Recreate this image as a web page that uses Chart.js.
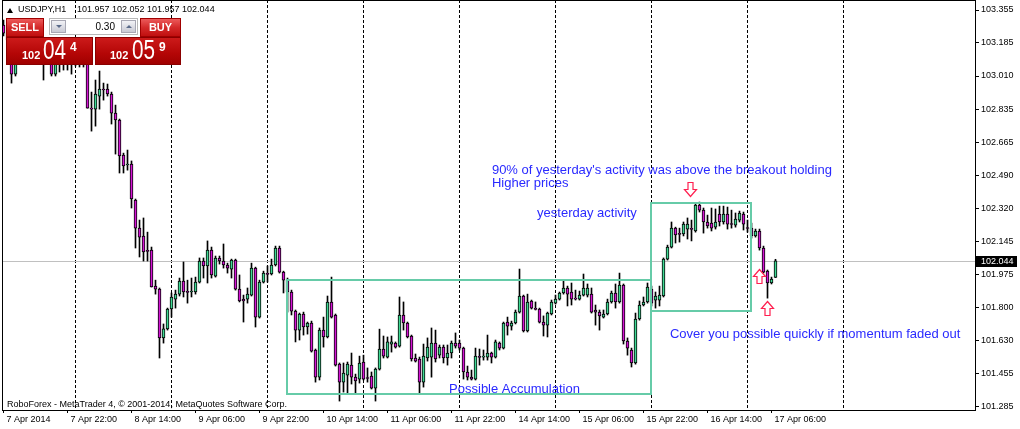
<!DOCTYPE html>
<html><head><meta charset="utf-8">
<script src="https://cdn.jsdelivr.net/npm/chart.js@4.4.1/dist/chart.umd.min.js"></script>
<style>
html,body{margin:0;padding:0;background:#fff;}
#wrap{position:relative;width:1020px;height:429px;overflow:hidden;font-family:"Liberation Sans",Arial,sans-serif;}
#c{position:absolute;left:0;top:0;}
.abs{position:absolute;white-space:pre;}
#tri{left:7px;top:8px;width:0;height:0;border-left:3.5px solid transparent;border-right:3.5px solid transparent;border-bottom:5px solid #000;}
#title{left:18px;top:5px;font-size:9px;line-height:9px;color:#000;}
#title b{font-weight:normal;position:absolute;left:59px;top:0;}
#footer{left:7px;top:400px;font-size:9px;line-height:9px;color:#000;}
.btn{position:absolute;top:18px;height:19px;background:linear-gradient(#ec5a5a,#d42a2a 50%,#c01010);border:1px solid #a00000;box-sizing:border-box;color:#fff;font-weight:bold;font-size:11px;line-height:17px;text-align:center;}
#sell{left:6px;width:38px;}
#buy{left:140px;width:41px;}
#spin{position:absolute;left:49px;top:18px;width:89px;height:17px;background:#fff;border:1px solid #b8b8b8;box-sizing:border-box;}
.sb{position:absolute;top:1px;width:15px;height:13px;background:linear-gradient(#f2f2f6,#c9cad4);border:1px solid #a8a8b4;box-sizing:border-box;}
.sb i{position:absolute;left:4px;width:0;height:0;border-left:3px solid transparent;border-right:3px solid transparent;}
#sbl{left:1px;} #sbl i{top:4px;border-top:3px solid #5a6a8a;}
#sbr{left:71px;} #sbr i{top:4px;border-bottom:3px solid #5a6a8a;}
#val{position:absolute;right:22px;top:3px;font-size:10px;line-height:10px;color:#000;}
.pbox{position:absolute;top:37px;height:28px;background:linear-gradient(#cc1a1a,#b40606 60%,#a00000);border:1px solid #8a0000;box-sizing:border-box;color:#fff;}
#p1{left:6px;width:87px;}
#p2{left:95px;width:86px;}
.pbox span{position:absolute;white-space:pre;}
.sm{font-size:11px;line-height:11px;font-weight:bold;top:12px;}
.bg{font-size:28px;line-height:28px;top:-2px;display:inline-block;transform:scaleX(0.74);transform-origin:0 0;}
.sp{font-size:12px;line-height:12px;font-weight:bold;top:3px;}
</style></head>
<body>
<div id="wrap">
<canvas id="c" width="1020" height="429"></canvas>
<div id="tri" class="abs"></div>
<div id="title" class="abs">USDJPY,H1<b>101.957 102.052 101.957 102.044</b></div>
<div id="sell" class="btn">SELL</div>
<div id="spin"><div id="sbl" class="sb"><i></i></div><div id="val">0.30</div><div id="sbr" class="sb"><i></i></div></div>
<div id="buy" class="btn">BUY</div>
<div id="p1" class="pbox"><span class="sm" style="left:15px">102</span><span class="bg" style="left:36px">04</span><span class="sp" style="left:63px">4</span></div>
<div id="p2" class="pbox"><span class="sm" style="left:14px">102</span><span class="bg" style="left:36px">05</span><span class="sp" style="left:63px">9</span></div>
<div id="footer" class="abs">RoboForex - MetaTrader 4, © 2001-2014, MetaQuotes Software Corp.</div>
</div>
<script>
// ---- data (USDJPY H1, bar 0 = 7 Apr 2014 06:00) ----
const opens = [103.276,103.234,103.198,103.020,103.120,103.172,103.146,103.188,103.156,103.198,103.172,103.146,103.156,103.020,103.104,103.083,103.109,103.093,103.083,103.093,103.083,103.093,102.842,102.837,102.905,102.942,102.942,102.916,102.816,102.780,102.597,102.545,102.550,102.362,102.215,102.174,102.095,102.100,101.912,101.896,101.641,101.688,101.792,101.844,101.870,101.938,101.881,101.881,101.881,101.933,102.043,102.017,102.100,101.964,102.059,102.043,102.022,102.001,102.048,101.896,101.844,101.844,101.865,102.006,101.750,101.933,101.975,101.975,102.022,102.111,101.985,101.943,101.881,101.781,101.682,101.766,101.698,101.719,101.578,101.436,101.682,101.646,101.829,101.761,101.504,101.410,101.447,101.499,101.436,101.426,101.515,101.431,101.442,101.379,101.478,101.583,101.541,101.609,101.614,101.598,101.761,101.719,101.651,101.536,101.531,101.410,101.536,101.541,101.614,101.551,101.593,101.536,101.562,101.614,101.614,101.588,101.463,101.436,101.426,101.541,101.541,101.541,101.562,101.541,101.614,101.588,101.724,101.703,101.719,101.776,101.860,101.677,101.834,101.792,101.792,101.724,101.708,101.766,101.823,101.844,101.876,101.902,101.881,101.849,101.844,101.865,101.865,101.870,101.787,101.776,101.750,101.766,101.829,101.876,101.829,101.917,101.625,101.578,101.510,101.740,101.813,101.829,101.896,101.839,101.839,101.860,102.053,102.116,102.215,102.184,102.184,102.210,102.210,102.200,102.336,102.309,102.247,102.241,102.220,102.288,102.247,102.288,102.236,102.231,102.257,102.288,102.215,102.215,102.174,102.200,102.111,101.990,101.928,101.957];
const highs = [103.302,103.260,103.208,103.146,103.198,103.208,103.219,103.224,103.250,103.240,103.198,103.188,103.177,103.136,103.125,103.136,103.136,103.120,103.120,103.115,103.120,103.120,102.926,102.989,103.036,102.973,102.968,102.926,102.858,102.785,102.607,102.623,102.566,102.367,102.257,102.268,102.194,102.116,101.943,101.902,101.714,101.797,101.876,101.891,101.954,102.038,101.943,101.954,101.959,102.059,102.059,102.148,102.116,102.069,102.069,102.132,102.032,102.053,102.053,101.970,101.865,101.902,102.032,102.011,101.943,101.990,102.017,102.053,102.121,102.121,101.990,101.954,101.891,101.787,101.771,101.776,101.724,101.729,101.583,101.693,101.750,101.860,101.959,101.766,101.510,101.510,101.515,101.562,101.452,101.546,101.551,101.484,101.463,101.484,101.687,101.651,101.646,101.651,101.620,101.855,101.829,101.724,101.656,101.557,101.541,101.609,101.641,101.693,101.682,101.604,101.604,101.604,101.625,101.667,101.630,101.593,101.494,101.473,101.588,101.583,101.578,101.656,101.567,101.630,101.620,101.724,101.750,101.729,101.787,102.001,101.865,101.870,101.839,101.829,101.797,101.756,101.776,101.839,101.865,101.881,101.938,101.912,101.928,101.891,101.886,101.975,101.923,101.902,101.813,101.787,101.787,101.844,101.886,101.923,101.980,101.923,101.641,101.588,101.771,101.834,101.855,101.928,101.912,101.881,101.912,102.059,102.126,102.247,102.220,102.215,102.247,102.268,102.257,102.346,102.351,102.320,102.283,102.320,102.315,102.330,102.330,102.325,102.309,102.294,102.304,102.299,102.257,102.241,102.210,102.210,102.121,101.996,101.959,102.052];
const lows = [103.219,103.172,102.973,103.010,103.093,103.104,103.115,103.120,103.136,103.120,102.989,103.093,103.010,103.010,103.031,103.041,103.041,103.020,103.062,103.057,103.057,102.842,102.722,102.748,102.837,102.884,102.905,102.759,102.602,102.503,102.503,102.518,102.320,102.111,102.064,102.043,102.043,101.907,101.870,101.536,101.614,101.682,101.750,101.797,101.860,101.855,101.823,101.855,101.870,101.928,101.954,101.928,101.954,101.959,102.027,102.006,101.980,101.954,101.891,101.829,101.724,101.823,101.860,101.698,101.745,101.928,101.933,101.970,102.017,101.980,101.876,101.776,101.761,101.620,101.630,101.656,101.661,101.567,101.410,101.421,101.593,101.641,101.745,101.494,101.311,101.358,101.353,101.400,101.348,101.405,101.421,101.410,101.374,101.311,101.473,101.536,101.536,101.567,101.588,101.593,101.682,101.641,101.520,101.515,101.353,101.384,101.520,101.436,101.515,101.536,101.510,101.499,101.536,101.588,101.578,101.426,101.421,101.421,101.421,101.499,101.525,101.525,101.510,101.536,101.578,101.583,101.656,101.682,101.714,101.771,101.672,101.672,101.792,101.787,101.719,101.651,101.646,101.761,101.818,101.839,101.870,101.808,101.813,101.839,101.839,101.860,101.855,101.771,101.708,101.682,101.745,101.761,101.823,101.797,101.823,101.609,101.551,101.489,101.504,101.734,101.808,101.823,101.808,101.797,101.808,101.855,102.048,102.111,102.137,102.142,102.174,102.158,102.148,102.194,102.299,102.189,102.215,102.200,102.210,102.226,102.236,102.210,102.215,102.220,102.247,102.205,102.194,102.163,102.168,102.100,101.980,101.849,101.923,101.957];
const closes = [103.234,103.198,103.020,103.120,103.172,103.146,103.188,103.156,103.198,103.172,103.146,103.156,103.020,103.104,103.083,103.109,103.093,103.083,103.093,103.083,103.093,102.842,102.837,102.916,102.942,102.937,102.916,102.816,102.780,102.592,102.540,102.550,102.367,102.215,102.168,102.090,102.093,101.907,101.896,101.641,101.688,101.792,101.855,101.870,101.938,101.881,101.879,101.883,101.933,102.043,102.017,102.100,101.970,102.059,102.043,102.022,102.006,102.048,101.896,101.834,101.834,101.870,102.006,101.750,101.933,101.980,101.973,102.022,102.111,101.985,101.943,101.881,101.781,101.682,101.766,101.698,101.719,101.572,101.436,101.682,101.646,101.829,101.750,101.499,101.410,101.457,101.504,101.436,101.416,101.510,101.426,101.429,101.379,101.478,101.583,101.546,101.620,101.620,101.593,101.761,101.719,101.646,101.531,101.520,101.410,101.546,101.593,101.614,101.531,101.593,101.536,101.562,101.614,101.598,101.588,101.463,101.436,101.426,101.546,101.539,101.543,101.562,101.541,101.620,101.588,101.719,101.703,101.719,101.776,101.860,101.677,101.829,101.797,101.790,101.724,101.708,101.771,101.829,101.844,101.876,101.902,101.870,101.844,101.844,101.865,101.902,101.902,101.776,101.776,101.756,101.766,101.829,101.876,101.829,101.917,101.625,101.588,101.510,101.740,101.813,101.829,101.907,101.823,101.860,101.865,102.053,102.116,102.215,102.179,102.182,102.236,102.236,102.208,102.336,102.309,102.247,102.226,102.215,102.247,102.247,102.288,102.236,102.234,102.262,102.294,102.236,102.213,102.174,102.200,102.111,101.985,101.928,101.949,102.044];

const timeTickBars = [0,16,32,48,64,80,96,112,128,144,160,176,192];
const timeLabels = ["7 Apr 2014","7 Apr 22:00","8 Apr 14:00","9 Apr 06:00","9 Apr 22:00","10 Apr 14:00","11 Apr 06:00","11 Apr 22:00","14 Apr 14:00","15 Apr 06:00","15 Apr 22:00","16 Apr 14:00","17 Apr 06:00"];
const separatorBars = [18,42,66,90,114,138,162,186,210];
const priceTicks = [103.355,103.185,103.010,102.835,102.665,102.490,102.320,102.145,101.975,101.800,101.630,101.455,101.285];
const lastPrice = 102.044;

// annotation objects (time in bars, price)
const boxes = [
  {x1:70.9, x2:161.9, p1:101.943, p2:101.348},
  {x1:161.9, x2:186.9, p1:102.346, p2:101.781}
];
const notes = [
  {text:"90% of yesterday's activity was above the breakout holding", x:122.1, p:102.518},
  {text:"Higher prices", x:122.1, p:102.450},
  {text:"yesterday activity", x:133.4, p:102.294},
  {text:"Possible Accumulation", x:111.4, p:101.370},
  {text:"Cover you possible quickly if momentum faded out", x:166.6, p:101.658}
];
const arrows = [
  {dir:'down', x:171.6, p:102.456},
  {dir:'up', x:188.75, p:102.001},
  {dir:'up', x:190.8, p:101.834}
];

const BULL = '#3fd994', BEAR = '#d414d4';
const FONT = '"Liberation Sans", Arial, sans-serif';

const wickData = highs.map((h,i)=>({x:i, y:[lows[i], h]}));
const bodyData = opens.map((o,i)=>({x:i, y:[Math.min(o,closes[i]), Math.max(o,closes[i])]}));

const overlay = {
  id:'overlay',
  beforeDatasetsDraw(chart){
    const {ctx, chartArea:a, scales:{y}} = chart;
    const py = Math.round(y.getPixelForValue(lastPrice)) + 0.5;
    ctx.save(); ctx.strokeStyle='#c0c0c0'; ctx.lineWidth=1;
    ctx.beginPath(); ctx.moveTo(a.left, py); ctx.lineTo(a.right, py); ctx.stroke(); ctx.restore();
  },
  afterDatasetsDraw(chart){
    const {ctx, scales:{x, y}} = chart;
    ctx.save();
    ctx.strokeStyle = '#66cba8'; ctx.lineWidth = 2;
    boxes.forEach(b=>{
      const l = Math.round(x.getPixelForValue(b.x1)), r = Math.round(x.getPixelForValue(b.x2));
      const t = Math.round(y.getPixelForValue(b.p1)), bt = Math.round(y.getPixelForValue(b.p2));
      ctx.strokeRect(l, t, r-l, bt-t);
    });
    ctx.fillStyle = '#2a2aff'; ctx.font = '13px ' + FONT; ctx.textBaseline='middle'; ctx.textAlign='left';
    notes.forEach(n=> ctx.fillText(n.text, x.getPixelForValue(n.x), y.getPixelForValue(n.p)));
    arrows.forEach(ar=>{
      const cx = Math.round(x.getPixelForValue(ar.x)) + 0.5, ty = Math.round(y.getPixelForValue(ar.p)) + 0.5;
      const H = 14, hw = 6, sw = 2.5, hh = 7;
      ctx.beginPath();
      if (ar.dir === 'up') {
        ctx.moveTo(cx, ty); ctx.lineTo(cx+hw, ty+hh); ctx.lineTo(cx+sw, ty+hh); ctx.lineTo(cx+sw, ty+H);
        ctx.lineTo(cx-sw, ty+H); ctx.lineTo(cx-sw, ty+hh); ctx.lineTo(cx-hw, ty+hh); ctx.closePath();
      } else {
        ctx.moveTo(cx-sw, ty); ctx.lineTo(cx+sw, ty); ctx.lineTo(cx+sw, ty+H-hh); ctx.lineTo(cx+hw, ty+H-hh);
        ctx.lineTo(cx, ty+H); ctx.lineTo(cx-hw, ty+H-hh); ctx.lineTo(cx-sw, ty+H-hh); ctx.closePath();
      }
      ctx.fillStyle = '#fff'; ctx.fill();
      ctx.strokeStyle = '#ff1f4f'; ctx.lineWidth = 1.2; ctx.stroke();
    });
    ctx.restore();
  },
  afterDraw(chart){
    const {ctx, chartArea:a, scales:{y}} = chart;
    ctx.save();
    ctx.strokeStyle='#000'; ctx.lineWidth=1;
    ctx.strokeRect(a.left-0.5, a.top+0.5, a.right-a.left+1, a.bottom-a.top);
    const py = Math.round(y.getPixelForValue(lastPrice));
    ctx.fillStyle='#000'; ctx.fillRect(a.right+1, py-5, 41, 11);
    ctx.fillStyle='#fff'; ctx.font='9px '+FONT; ctx.textBaseline='middle'; ctx.textAlign='left';
    ctx.fillText(lastPrice.toFixed(3), a.right+6, py+0.5);
    ctx.restore();
  }
};

const xMin = -0.125, xMax = 242.875;
const yMin = 101.2643, yMax = 103.4073;

new Chart(document.getElementById('c'), {
  type:'bar',
  data:{ datasets:[
    {label:'wick', data:wickData, barThickness:1, backgroundColor:'#000', borderWidth:0, grouped:false, order:2},
    {label:'body', data:bodyData, barThickness:3, minBarLength:1, grouped:false, order:1,
     backgroundColor: c => (closes[c.dataIndex] >= opens[c.dataIndex] ? BULL : BEAR),
     borderColor:'#000', borderWidth:1, borderSkipped:false}
  ]},
  options:{
    responsive:false, animation:false, devicePixelRatio:1,
    layout:{padding:{left:3, top:0, right:0, bottom:0}},
    plugins:{legend:{display:false}, tooltip:{enabled:false}},
    scales:{
      x:{type:'linear', min:xMin, max:xMax, offset:false, position:'bottom',
        afterBuildTicks:s=>{ s.ticks = timeTickBars.map(v=>({value:v})); },
        afterFit:s=>{ s.height = 19; s.paddingLeft = 0; s.paddingRight = 0; },
        ticks:{autoSkip:false, maxRotation:0, minRotation:0, align:'start', labelOffset:3, padding:1,
          callback:(v,i)=>timeLabels[i], color:'#000', font:{family:FONT, size:9}},
        grid:{offset:false, drawOnChartArea:false, drawTicks:true, tickLength:3, color:'#000'},
        border:{display:true, color:'#000'}},
      sep:{type:'linear', min:xMin, max:xMax, offset:false, position:'bottom',
        afterBuildTicks:s=>{ s.ticks = separatorBars.map(v=>({value:v})); },
        afterFit:s=>{ s.height = 0; s.paddingLeft = 0; s.paddingRight = 0; },
        ticks:{display:false},
        grid:{offset:false, drawOnChartArea:true, drawTicks:false, color:'#000', lineWidth:1},
        border:{display:false, dash:[3,2]}},
      y:{type:'linear', position:'right', min:yMin, max:yMax,
        afterBuildTicks:s=>{ s.ticks = priceTicks.map(v=>({value:v})); },
        afterFit:s=>{ s.width = 45; s.paddingTop = 0; s.paddingBottom = 0; },
        ticks:{autoSkip:false, padding:2, crossAlign:'near', callback:v=>Number(v).toFixed(3), color:'#000', font:{family:FONT, size:9}},
        grid:{drawOnChartArea:false, drawTicks:true, tickLength:4, color:'#000'},
        border:{display:true, color:'#000'}}
    }
  },
  plugins:[overlay]
});
</script>
</body></html>
